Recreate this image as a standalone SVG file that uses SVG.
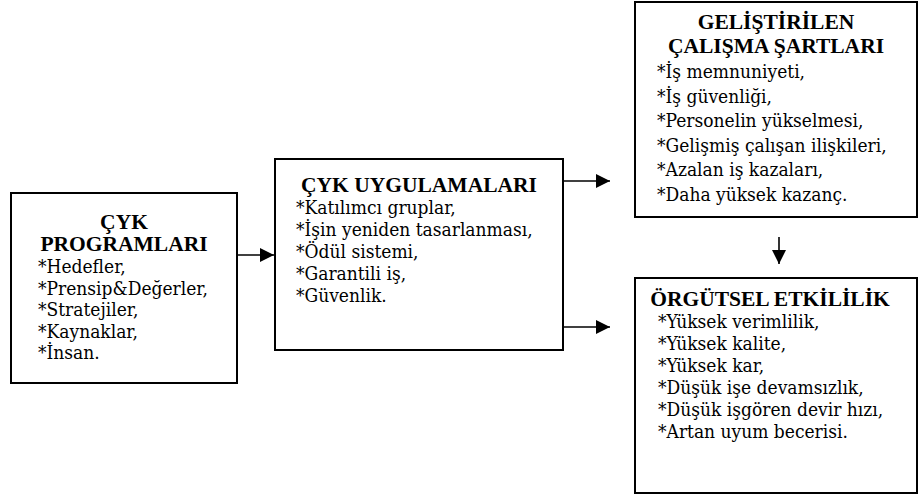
<svg xmlns="http://www.w3.org/2000/svg" width="919" height="495" viewBox="0 0 919 495">
  <defs>
    <marker id="arrow" viewBox="0 0 14 14" refX="14" refY="7" markerWidth="14" markerHeight="14" markerUnits="userSpaceOnUse" orient="auto">
      <path d="M0,0 L14,7 L0,14 Z" fill="#000"/>
    </marker>
    <style>
      .box { fill: #fff; stroke: #000; stroke-width: 2; }
      .title { font-family: "Liberation Serif", "DejaVu Serif", serif; font-weight: bold; font-size: 21.5px; font-stretch: normal; text-anchor: middle; }
      .item { font-family: "DejaVu Serif", serif; font-stretch: condensed; font-size: 19px; }
      .conn { stroke: #000; stroke-width: 1.6; fill: none; marker-end: url(#arrow); }
    </style>
  </defs>
  <rect width="919" height="495" fill="#fff"/>

  <!-- connectors -->
  <g id="connectors">
    <line class="conn" x1="237" y1="255" x2="274" y2="255"/>
    <line class="conn" x1="563" y1="181" x2="610" y2="181"/>
    <line class="conn" x1="563" y1="327" x2="610" y2="327"/>
    <line class="conn" x1="779" y1="237" x2="779" y2="264"/>
  </g>

  <g id="cyk-programlari" fill="#000">
    <rect class="box" x="11" y="193" width="226" height="190"/>
    <text class="title" x="124" y="229">ÇYK</text>
    <text class="title" x="124" y="251">PROGRAMLARI</text>
    <text class="item" x="38" y="273">*Hedefler,</text>
    <text class="item" x="38" y="294.5">*Prensip&amp;Değerler,</text>
    <text class="item" x="38" y="316">*Stratejiler,</text>
    <text class="item" x="38" y="337.5">*Kaynaklar,</text>
    <text class="item" x="38" y="359">*İnsan.</text>
  </g>

  <g id="cyk-uygulamalari" fill="#000">
    <rect class="box" x="275" y="159" width="288" height="191"/>
    <text class="title" x="419" y="192">ÇYK UYGULAMALARI</text>
    <text class="item" x="296" y="214">*Katılımcı gruplar,</text>
    <text class="item" x="296" y="236">*İşin yeniden tasarlanması,</text>
    <text class="item" x="296" y="258">*Ödül sistemi,</text>
    <text class="item" x="296" y="280">*Garantili iş,</text>
    <text class="item" x="296" y="302">*Güvenlik.</text>
  </g>

  <g id="calisma-sartlari" fill="#000">
    <rect class="box" x="635" y="2" width="282" height="215"/>
    <text class="title" x="776" y="29">GELİŞTİRİLEN</text>
    <text class="title" x="776" y="53">ÇALIŞMA ŞARTLARI</text>
    <text class="item" x="657" y="78">*İş memnuniyeti,</text>
    <text class="item" x="657" y="102.5">*İş güvenliği,</text>
    <text class="item" x="657" y="127">*Personelin yükselmesi,</text>
    <text class="item" x="657" y="151.5">*Gelişmiş çalışan ilişkileri,</text>
    <text class="item" x="657" y="176">*Azalan iş kazaları,</text>
    <text class="item" x="657" y="200.5">*Daha yüksek kazanç.</text>
  </g>

  <g id="orgutsel-etkililik" fill="#000">
    <rect class="box" x="635" y="278" width="282" height="215"/>
    <text class="title" x="770" y="306">ÖRGÜTSEL ETKİLİLİK</text>
    <text class="item" x="658" y="328">*Yüksek verimlilik,</text>
    <text class="item" x="658" y="350">*Yüksek kalite,</text>
    <text class="item" x="658" y="372">*Yüksek kar,</text>
    <text class="item" x="658" y="394">*Düşük işe devamsızlık,</text>
    <text class="item" x="658" y="416">*Düşük işgören devir hızı,</text>
    <text class="item" x="658" y="438">*Artan uyum becerisi.</text>
  </g>
</svg>
